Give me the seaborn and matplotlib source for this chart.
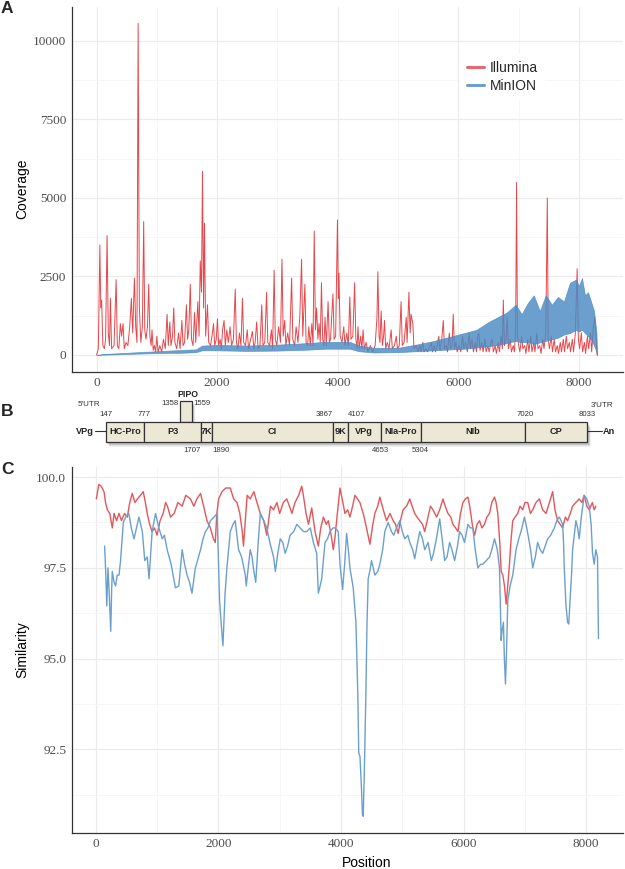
import matplotlib
matplotlib.use("Agg")
import matplotlib.pyplot as plt
from matplotlib.patches import Rectangle
from matplotlib.lines import Line2D
import seaborn as sns

# ---- coverage (panel A) ----
ill_pos = [0, 30, 55, 70, 85, 105, 130, 150, 175, 195, 215, 230, 250, 290, 325, 345, 370, 395, 415, 440,
           460, 490, 520, 550, 578, 600, 628, 650, 670, 690, 710, 735, 760, 782, 800, 820, 845, 865, 885, 905,
           920, 940, 960, 980, 1000, 1020, 1050, 1080, 1110, 1140, 1170, 1190, 1215, 1235, 1260, 1280, 1300, 1330, 1360, 1385,
           1415, 1435, 1460, 1490, 1510, 1530, 1555, 1575, 1600, 1625, 1645, 1680, 1700, 1720, 1740, 1757, 1775, 1790, 1810, 1840,
           1860, 1890, 1915, 1940, 1960, 1985, 2005, 2025, 2050, 2070, 2090, 2115, 2135, 2160, 2185, 2215, 2240, 2270, 2300, 2320,
           2345, 2370, 2395, 2420, 2440, 2470, 2500, 2520, 2545, 2585, 2610, 2630, 2655, 2680, 2710, 2740, 2760, 2790, 2820, 2840,
           2870, 2900, 2920, 2945, 2965, 2990, 3020, 3050, 3075, 3095, 3120, 3140, 3170, 3200, 3235, 3255, 3285, 3310, 3340, 3370,
           3400, 3420, 3455, 3475, 3500, 3520, 3545, 3570, 3590, 3610, 3630, 3650, 3670, 3690, 3710, 3730, 3750, 3770, 3790, 3810,
           3840, 3860, 3880, 3920, 3940, 3965, 3995, 4010, 4020, 4040, 4070, 4100, 4120, 4150, 4175, 4200, 4220, 4250, 4280, 4300,
           4320, 4335, 4355, 4380, 4400, 4420, 4440, 4470, 4500, 4540, 4580, 4620, 4650, 4665, 4685, 4700, 4720, 4740, 4760, 4775,
           4795, 4820, 4850, 4885, 4905, 4940, 4970, 4990, 5020, 5050, 5070, 5100, 5135, 5150, 5180, 5200, 5215, 5245, 5265, 5300,
           5330, 5360, 5380, 5410, 5430, 5460, 5490, 5520, 5550, 5570, 5600, 5620, 5650, 5675, 5695, 5720, 5750, 5770, 5800, 5820,
           5850, 5870, 5895, 5915, 5935, 5960, 5980, 6010, 6040, 6070, 6090, 6120, 6150, 6180, 6200, 6225, 6250, 6280, 6300, 6320,
           6340, 6360, 6390, 6410, 6440, 6460, 6490, 6510, 6540, 6560, 6580, 6610, 6630, 6660, 6680, 6710, 6730, 6745, 6765, 6790,
           6810, 6830, 6860, 6880, 6910, 6930, 6950, 6965, 6980, 7000, 7020, 7050, 7070, 7100, 7120, 7150, 7170, 7200, 7220, 7250,
           7270, 7300, 7320, 7350, 7370, 7400, 7420, 7450, 7475, 7490, 7510, 7540, 7560, 7590, 7610, 7640, 7660, 7690, 7710, 7740,
           7760, 7790, 7810, 7840, 7860, 7890, 7910, 7940, 7970, 7990, 8010, 8040, 8060, 8090, 8110, 8140, 8160, 8190, 8210, 8240,
           8260, 8280, 8300]
ill_cov = [0, 200, 3500, 1500, 1750, 300, 200, 500, 3800, 700, 300, 1800, 200, 300, 2400, 300, 200, 1000, 600, 1000,
           200, 400, 300, 900, 1800, 700, 2450, 900, 400, 10560, 1500, 400, 900, 4250, 800, 500, 900, 2250, 600, 300,
           800, 150, 300, 100, 600, 100, 300, 100, 500, 200, 1300, 300, 1050, 300, 600, 1500, 400, 200, 700, 200,
           1100, 300, 400, 1600, 500, 800, 2250, 500, 300, 1350, 400, 1700, 600, 3000, 2000, 5850, 1500, 4200, 600, 1600,
           400, 300, 600, 1000, 300, 500, 1150, 300, 500, 200, 800, 1100, 300, 800, 400, 900, 300, 500, 2100, 400,
           200, 700, 300, 1800, 400, 300, 800, 200, 400, 750, 200, 400, 1050, 200, 300, 1600, 300, 400, 2000, 400,
           300, 800, 200, 2700, 500, 300, 900, 400, 3050, 600, 1100, 300, 700, 300, 2450, 500, 300, 900, 400, 1200,
           3050, 600, 2250, 400, 300, 900, 300, 1000, 300, 3950, 800, 1500, 500, 1000, 400, 2300, 500, 300, 1200, 300,
           1700, 400, 500, 1950, 500, 600, 4300, 1800, 2600, 600, 400, 900, 300, 700, 300, 1850, 500, 600, 2300, 500,
           200, 900, 200, 600, 200, 800, 200, 400, 100, 300, 100, 300, 1200, 2650, 600, 400, 1400, 300, 600, 1100,
           200, 400, 200, 800, 200, 300, 600, 200, 300, 1700, 300, 400, 1200, 400, 2000, 700, 1300, 1000, 200, 300,
           100, 300, 100, 400, 100, 200, 100, 250, 400, 100, 300, 100, 300, 600, 150, 400, 1100, 200, 300, 100,
           700, 200, 300, 1300, 200, 400, 100, 300, 100, 600, 200, 400, 100, 700, 200, 500, 100, 400, 100, 600,
           700, 150, 400, 100, 500, 100, 300, 100, 400, 500, 100, 300, 50, 400, 100, 600, 200, 1750, 300, 500,
           1200, 200, 500, 100, 300, 100, 800, 5500, 600, 300, 100, 600, 200, 300, 50, 500, 100, 600, 100, 400,
           100, 700, 200, 300, 50, 500, 200, 700, 5000, 500, 200, 600, 100, 500, 100, 300, 50, 400, 100, 500,
           100, 600, 200, 400, 100, 500, 100, 700, 2750, 500, 200, 700, 100, 400, 50, 600, 200, 700, 100, 900,
           1200, 700, 0]

# MinION coverage is a dense zig-zag band: lower / upper envelope
min_pos = [0, 100, 300, 600, 1000, 1400, 1650, 1750, 2000, 2500, 3000, 3500, 3800, 4200, 4350, 4600, 5000,
           5300, 5600, 5900, 6100, 6300, 6500, 6650, 6800, 6950, 7050, 7150, 7250, 7350, 7450, 7550, 7650,
           7750, 7850, 7950, 8000, 8050, 8100, 8150, 8200, 8250, 8290, 8300]
min_low = [0, 10, 20, 40, 60, 70, 90, 150, 150, 130, 140, 170, 200, 200, 120, 80, 90,
           120, 150, 180, 200, 240, 280, 320, 380, 450, 400, 420, 350, 400, 450, 500, 550,
           650, 700, 800, 750, 800, 700, 600, 500, 300, 100, 0]
min_high = [0, 30, 50, 80, 120, 160, 180, 300, 320, 300, 330, 380, 420, 420, 300, 230, 230,
            330, 450, 600, 700, 800, 1050, 1200, 1350, 1600, 1300, 1650, 1900, 1400, 1900, 1600, 1850,
            1700, 2300, 2400, 2200, 2450, 1900, 2000, 1700, 1400, 700, 0]

# ---- genome map (panel B) ----
gene_names = ["HC-Pro", "P3", "7K", "CI", "9K", "VPg", "NIa-Pro", "NIb", "CP"]
gene_start = [147, 777, 1707, 1890, 3867, 4107, 4653, 5304, 7020]
gene_end = [777, 1707, 1890, 3867, 4107, 4653, 5304, 7020, 8033]
top_marks = [147, 777, 3867, 4107, 7020, 8033]
top_ha = ["center", "center", "right", "left", "center", "center"]
bottom_marks = [1707, 1890, 4653, 5304]
bottom_ha = ["right", "left", "center", "center"]
pipo_start, pipo_end = 1358, 1559

# ---- similarity (panel C) ----
sim_ill_pos = [10, 50, 90, 135, 160, 190, 230, 270, 300, 340, 380, 420, 470, 515, 555, 595, 640, 680, 730, 775,
               810, 840, 880, 920, 960, 1000, 1050, 1100, 1140, 1170, 1220, 1280, 1340, 1410, 1470, 1545, 1600, 1650, 1710, 1760,
               1815, 1870, 1920, 1950, 1975, 2005, 2060, 2120, 2195, 2250, 2305, 2350, 2390, 2410, 2440, 2470, 2520, 2580, 2630, 2685,
               2740, 2790, 2850, 2900, 2955, 3000, 3060, 3115, 3160, 3200, 3250, 3310, 3360, 3387, 3430, 3470, 3523, 3577, 3631, 3670,
               3713, 3760, 3794, 3840, 3875, 3900, 3929, 3984, 4020, 4065, 4110, 4146, 4190, 4228, 4270, 4309, 4363, 4417, 4472, 4510,
               4553, 4600, 4634, 4690, 4743, 4800, 4851, 4890, 4932, 4970, 5013, 5070, 5122, 5160, 5203, 5240, 5285, 5330, 5366, 5420,
               5460, 5501, 5560, 5610, 5664, 5700, 5745, 5790, 5826, 5870, 5908, 5950, 5989, 6030, 6070, 6100, 6125, 6150, 6179, 6220,
               6260, 6300, 6341, 6380, 6423, 6460, 6504, 6530, 6558, 6590, 6612, 6640, 6667, 6694, 6720, 6748, 6775, 6802, 6840, 6883,
               6920, 6964, 7000, 7046, 7090, 7127, 7180, 7236, 7290, 7344, 7400, 7453, 7490, 7534, 7575, 7615, 7660, 7696, 7740, 7778,
               7830, 7886, 7930, 7967, 8010, 8049, 8100, 8130, 8157]
sim_ill = [99.4, 99.8, 99.75, 99.6, 99.3, 99.1, 99.0, 98.6, 99.0, 98.8, 99.0, 98.8, 99.0, 98.9, 99.3, 99.55, 99.3, 99.4, 99.5, 99.6,
           99.3, 99.0, 98.7, 98.5, 98.6, 98.4, 98.8, 99.0, 99.3, 99.2, 98.9, 99.0, 99.3, 99.2, 99.5, 99.4, 99.2, 99.4, 99.55, 99.2,
           98.8, 98.6, 98.3, 98.2, 99.0, 99.4, 99.6, 99.7, 99.7, 99.4, 99.3, 99.0, 98.5, 98.1, 98.8, 99.5, 99.4, 99.6, 99.3, 99.0,
           98.8, 98.4, 99.2, 99.1, 99.3, 99.0, 99.3, 99.4, 99.2, 99.0, 99.3, 99.5, 99.75, 99.5, 99.0, 98.7, 99.15, 98.5, 98.1, 98.6,
           98.9, 98.7, 98.8, 98.4, 98.0, 98.3, 98.8, 99.7, 99.4, 99.0, 99.1, 98.9, 99.2, 99.5, 99.4, 99.3, 99.0, 98.6, 98.15, 98.6,
           99.0, 99.2, 99.45, 99.1, 98.8, 99.0, 98.8, 98.7, 98.45, 98.8, 99.1, 99.2, 99.4, 99.2, 99.0, 98.9, 98.8, 98.7, 98.5, 98.9,
           99.2, 99.1, 98.9, 99.1, 99.4, 99.2, 99.0, 98.9, 98.7, 98.6, 98.5, 99.0, 99.3, 99.4, 99.45, 99.2, 98.9, 98.6, 98.4, 98.7,
           98.8, 98.6, 98.7, 98.9, 99.0, 99.3, 99.45, 99.3, 99.0, 98.2, 97.4, 97.3, 97.0, 96.5, 97.0, 97.6, 98.3, 98.8, 98.9, 99.0,
           99.2, 99.1, 99.3, 99.3, 99.0, 99.1, 99.3, 99.4, 99.1, 99.0, 99.3, 99.6, 99.1, 98.8, 98.7, 98.6, 98.9, 98.8, 99.0, 99.2,
           99.3, 99.4, 99.3, 99.5, 99.2, 99.1, 99.3, 99.1, 99.2]

sim_min_pos = [145, 165, 180, 200, 220, 245, 260, 270, 300, 325, 350, 380, 405, 430, 450, 490, 540, 580, 625, 665,
               705, 760, 800, 840, 870, 920, 975, 1030, 1085, 1120, 1165, 1230, 1300, 1355, 1410, 1450, 1490, 1530, 1570, 1625,
               1660, 1710, 1750, 1790, 1830, 1870, 1930, 1980, 2020, 2045, 2075, 2110, 2140, 2195, 2240, 2275, 2330, 2380, 2440, 2455,
               2520, 2550, 2580, 2610, 2650, 2685, 2740, 2790, 2840, 2900, 2930, 2970, 3010, 3050, 3090, 3130, 3170, 3230, 3280, 3333,
               3390, 3442, 3500, 3550, 3604, 3631, 3660, 3686, 3740, 3780, 3821, 3870, 3902, 3956, 3984, 4027, 4060, 4092, 4120, 4146,
               4200, 4244, 4275, 4290, 4310, 4335, 4350, 4363, 4380, 4406, 4425, 4444, 4470, 4498, 4553, 4600, 4634, 4680, 4715, 4770,
               4824, 4860, 4905, 4959, 5000, 5041, 5090, 5122, 5170, 5203, 5240, 5285, 5330, 5366, 5420, 5474, 5510, 5556, 5610, 5650,
               5691, 5730, 5772, 5810, 5854, 5900, 5935, 5975, 6016, 6070, 6110, 6151, 6190, 6233, 6280, 6314, 6370, 6423, 6460, 6504,
               6550, 6585, 6600, 6612, 6630, 6650, 6665, 6683, 6700, 6721, 6759, 6802, 6856, 6900, 6937, 6992, 7030, 7073, 7100, 7127,
               7170, 7208, 7250, 7290, 7330, 7371, 7420, 7480, 7520, 7561, 7590, 7615, 7630, 7642, 7669, 7696, 7715, 7734, 7760, 7778,
               7832, 7860, 7886, 7920, 7967, 8010, 8049, 8080, 8103, 8130, 8157, 8184, 8200]
sim_min = [98.1, 97.3, 96.45, 97.5, 96.8, 95.75, 96.9, 97.4, 97.1, 97.0, 97.3, 97.3, 97.7, 98.3, 98.75, 98.9, 99.0, 98.6, 98.3, 98.6,
           98.9, 98.5, 97.7, 97.8, 97.2, 98.5, 99.0, 98.6, 98.3, 98.4, 98.0, 97.6, 96.95, 97.0, 98.0, 97.6, 97.3, 97.1, 96.8, 97.5,
           97.7, 98.0, 98.3, 98.5, 98.6, 98.8, 98.9, 99.0, 96.6, 96.0, 95.35, 96.8, 97.5, 98.5, 98.7, 98.8, 98.0, 97.8, 97.3, 97.0,
           98.0, 97.8, 97.4, 97.1, 98.2, 99.0, 98.8, 98.6, 98.2, 97.8, 97.4, 97.9, 98.3, 98.2, 97.9, 98.1, 98.4, 98.5, 98.7, 98.6,
           98.5, 98.5, 98.6, 98.2, 97.9, 96.8, 97.0, 97.2, 98.2, 98.3, 98.5, 98.6, 98.6, 98.5, 97.6, 96.9, 97.6, 98.45, 98.0, 97.5,
           96.95, 96.0, 94.0, 92.4, 92.3, 91.4, 90.7, 90.65, 91.8, 94.0, 96.0, 97.2, 97.4, 97.7, 97.3, 97.4, 97.6, 98.0, 98.5, 98.75,
           98.5, 98.4, 98.6, 98.8, 98.5, 98.3, 98.4, 98.2, 98.0, 97.75, 98.1, 98.5, 98.3, 98.0, 98.2, 97.7, 97.9, 98.3, 98.85, 98.3,
           97.7, 97.8, 98.2, 98.0, 97.7, 98.1, 98.5, 98.4, 98.2, 98.7, 98.6, 98.6, 98.0, 97.5, 97.6, 97.6, 97.7, 97.8, 98.0, 98.3,
           98.0, 97.5, 96.5, 95.5, 95.8, 96.0, 95.0, 94.3, 95.2, 96.6, 97.0, 97.3, 98.0, 98.3, 98.5, 98.9, 98.6, 98.2, 97.9, 97.5,
           97.8, 98.2, 98.0, 97.9, 98.1, 98.3, 98.4, 98.6, 98.8, 98.9, 98.8, 98.7, 98.2, 97.5, 96.5, 96.0, 95.95, 96.5, 97.3, 98.0,
           98.8, 98.6, 98.3, 98.9, 99.5, 99.4, 99.2, 98.7, 97.9, 97.6, 98.0, 97.8, 95.55]

RED = "#E5474C"
BLUE = "#4A8BC4"
RED_C = "#E3565A"
BLUE_C = "#6BA0CE"

sns.set_style("white")
plt.rcParams["font.family"] = ["Liberation Serif", "DejaVu Serif"]
SANS = ["Liberation Sans", "DejaVu Sans"]

W, H = 625, 869


def box(l, t, r, b):
    return [l / W, 1 - b / H, (r - l) / W, (b - t) / H]


def style_axes(ax):
    for s in ["top", "right"]:
        ax.spines[s].set_visible(False)
    for s in ["left", "bottom"]:
        ax.spines[s].set_color("#333333")
        ax.spines[s].set_linewidth(0.9)
    ax.grid(which="major", color="#EBEBEB", lw=0.8)
    ax.grid(which="minor", color="#F5F5F5", lw=0.6)
    ax.set_axisbelow(True)
    ax.tick_params(which="major", length=2.3, width=0.6, color="#333333",
                   labelsize=9.5, labelcolor="#4D4D4D", pad=1.5)
    ax.tick_params(which="minor", length=0)


fig = plt.figure(figsize=(W / 100, H / 100), dpi=100)

# ---------- A ----------
axA = fig.add_axes(box(71.5, 6.7, 623, 371.7))
sns.lineplot(x=ill_pos, y=ill_cov, ax=axA, color=RED, lw=0.7, estimator=None, sort=False)
axA.fill_between(min_pos, min_low, min_high, color=BLUE, alpha=0.82, lw=0.5, zorder=3)
axA.set_xlim(-415, 8730)
axA.set_ylim(-532, 11092)
axA.set_xticks([0, 2000, 4000, 6000, 8000])
axA.set_xticks([1000, 3000, 5000, 7000], minor=True)
axA.set_yticks([0, 2500, 5000, 7500, 10000])
axA.set_yticks([1250, 3750, 6250, 8750], minor=True)
style_axes(axA)
axA.set_xlabel("")
axA.set_ylabel("Coverage", fontsize=10, family=SANS, color="black")
axA.yaxis.set_label_coords((22 - 71.5) / 551.5, 0.5)
axA.yaxis.label.set_verticalalignment("center")
handles = [Line2D([], [], color="#E36A70", lw=2.2), Line2D([], [], color="#6C9FCB", lw=2.2)]
leg = axA.legend(handles, ["Illumina", "MinION"], loc="center left",
                 bbox_to_anchor=((460 - 71.5) / 551.5, (371.7 - 77) / 365),
                 prop={"family": SANS, "size": 10}, handlelength=1.2, handletextpad=0.45,
                 labelspacing=0.25, borderpad=0.5, borderaxespad=0,
                 frameon=True, facecolor="white", edgecolor="none", framealpha=1)

# ---------- B ----------
axB = fig.add_axes(box(71.5, 388, 623, 468))
axB.set_xlim(-413, 8618)
axB.set_ylim(468, 388)
axB.axis("off")
y_top, y_bot = 421.7, 441.7
px = 1 / 0.06107  # data units per pixel on the map
for k in range(6):
    axB.add_patch(Rectangle((gene_start[0] + (1 + k * 0.5) * px, y_top + 1.5 + k * 0.7),
                            gene_end[-1] - gene_start[0], y_bot - y_top,
                            color="black", alpha=0.06, lw=0, zorder=1))
    axB.add_patch(Rectangle((pipo_start + (1 + k * 0.5) * px, 401 + 1.5 + k * 0.7),
                            pipo_end - pipo_start, y_top - 401,
                            color="black", alpha=0.05, lw=0, zorder=1))
axB.add_patch(Rectangle((pipo_start, 401), pipo_end - pipo_start, y_top - 401,
                        facecolor="#ECE8D6", edgecolor="#333333", lw=0.9, zorder=2))
for name, s, e in zip(gene_names, gene_start, gene_end):
    axB.add_patch(Rectangle((s, y_top), e - s, y_bot - y_top,
                            facecolor="#ECE8D6", edgecolor="#333333", lw=0.9, zorder=3))
    axB.text((s + e) / 2, (y_top + y_bot) / 2 + 0.3, name, ha="center", va="center",
             fontsize=6.6, fontweight="bold", family=SANS, color="#222222", zorder=4)
for v, ha in zip(top_marks, top_ha):
    axB.text(v, 414.3, str(v), ha=ha, va="center", fontsize=5.6, family=SANS, color="#333333")
for v, ha in zip(bottom_marks, bottom_ha):
    axB.text(v, 451, str(v), ha=ha, va="center", fontsize=5.6, family=SANS, color="#333333")
axB.text(pipo_start - 1.5 * px, 403.3, str(pipo_start), ha="right", va="center", fontsize=5.6,
         family=SANS, color="#333333")
axB.text(pipo_end + 1.5 * px, 403.3, str(pipo_end), ha="left", va="center", fontsize=5.6,
         family=SANS, color="#333333")
axB.text((pipo_start + pipo_end) / 2 + 2 * px, 394.3, "PIPO", ha="center", va="center", fontsize=6.3,
         fontweight="bold", family=SANS, color="#222222")
axB.plot([gene_start[0] - 10.5 * px, gene_start[0]], [431.5, 431.5], color="#333333", lw=0.8)
axB.plot([gene_end[-1], gene_end[-1] + 15 * px], [431.5, 431.5], color="#333333", lw=0.8)
axB.text(gene_start[0] - 11.5 * px, 431.5, "VPg", ha="right", va="center", fontsize=6.6,
         fontweight="bold", family=SANS, color="#222222")
axB.text(gene_end[-1] + 15.5 * px, 431.5, "An", ha="left", va="center", fontsize=6.6,
         fontweight="bold", family=SANS, color="#222222")
axB.text(gene_start[0] - 16.5 * px, 405, "5'UTR", ha="center", va="center", fontsize=5.8,
         family=SANS, color="#333333")
axB.text(gene_end[-1] + 15 * px, 406, "3'UTR", ha="center", va="center", fontsize=5.8,
         family=SANS, color="#333333")

# ---------- C ----------
axC = fig.add_axes(box(71.5, 467, 623, 833))
sns.lineplot(x=sim_ill_pos, y=sim_ill, ax=axC, color=RED_C, lw=1.0, estimator=None, sort=False)
sns.lineplot(x=sim_min_pos, y=sim_min, ax=axC, color=BLUE_C, lw=1.0, estimator=None, sort=False)
axC.set_xlim(-395, 8600)
axC.set_ylim(90.19, 100.28)
axC.set_xticks([0, 2000, 4000, 6000, 8000])
axC.set_xticks([1000, 3000, 5000, 7000], minor=True)
axC.set_yticks([92.5, 95.0, 97.5, 100.0])
axC.set_yticks([91.25, 93.75, 96.25, 98.75], minor=True)
axC.set_yticklabels(["92.5", "95.0", "97.5", "100.0"])
style_axes(axC)
axC.set_ylabel("Similarity", fontsize=10, family=SANS, color="black")
axC.yaxis.set_label_coords((22 - 71.5) / 551.5, 0.5)
axC.yaxis.label.set_verticalalignment("center")
axC.set_xlabel("Position", fontsize=10, family=SANS, color="black")
axC.xaxis.set_label_coords((367 - 71.5) / 551.5, -(863 - 833) / 366)
axC.xaxis.label.set_verticalalignment("center")

# panel letters
for letter, (x, y) in zip("ABC", [(7, 1), (7, 404), (7, 462)]):
    fig.text(x / W, 1 - y / H, letter, ha="center", va="top", fontsize=12.5,
             fontweight="bold", family=SANS)

fig.savefig("out.png", dpi=100)
